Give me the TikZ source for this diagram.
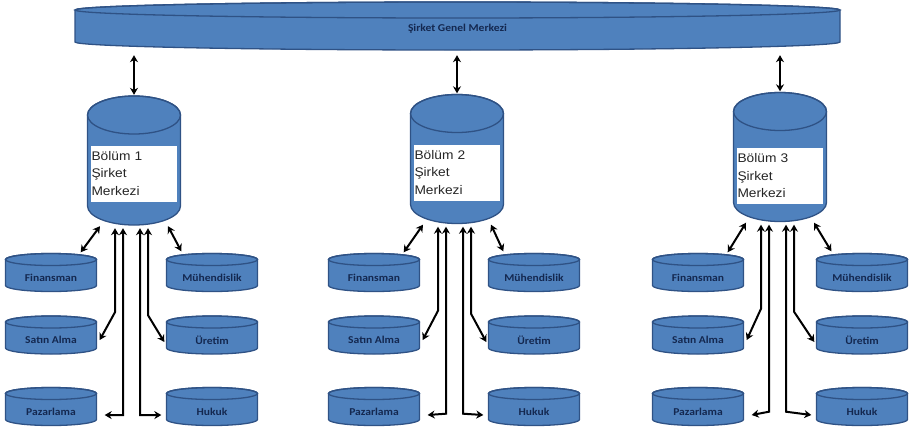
\documentclass[tikz,border=0pt]{standalone}
\usepackage{fontspec}
\setmainfont{Liberation Sans}
\newfontfamily\lblfont[FakeStretch=1.1]{Carlito}
\newfontfamily\boxfont[FakeStretch=1.1]{Liberation Sans}
\usetikzlibrary{calc,arrows.meta}
\definecolor{cylblue}{HTML}{4F81BD}
\definecolor{cyledge}{HTML}{2F5285}
\definecolor{navy}{HTML}{142850}
\newcommand\cyl[6]{%
  \filldraw[fill=cylblue,draw=cyledge,line width=1.3pt]
    ({#2-#4/2},{#3-#5/2+#6}) -- ({#2-#4/2},{#3+#5/2-#6})
    arc[start angle=180,end angle=0,x radius={#4/2},y radius={#6}]
    -- ({#2+#4/2},{#3-#5/2+#6})
    arc[start angle=0,end angle=-180,x radius={#4/2},y radius={#6}] -- cycle;
  \draw[cyledge,line width=1.3pt] (#2,{#3-#5/2+#6}) ellipse[x radius={#4/2},y radius={#6}];
  \node[inner sep=0pt,minimum width=#4,minimum height=#5] (#1) at (#2,#3) {};
}
\tikzset{
  lbl/.style={inner sep=0pt,text=navy,font=\lblfont\bfseries\fontsize{10.5}{12}\selectfont},
  box/.style={fill=white,inner xsep=0.5pt,inner ysep=0pt,minimum width=86,minimum height=56,
    text width=85,align=left,text=black!85,font=\boxfont\fontsize{12.5}{17.5}\selectfont},
  arr/.style={line width=2pt,{Stealth[length=7pt,width=8pt]}-{Stealth[length=7pt,width=8pt]}}
}
\begin{document}
\begin{tikzpicture}[x=1pt,y=-1pt]
\useasboundingbox (0,0) rectangle (909,432);
\cyl{bar}{457.5}{26}{765}{48}{8}
\node[lbl] (barl) at (457.5,29) {Şirket Genel Merkezi};
\foreach \g/\c/\cy/\by/\lx/\rx in {1/134/160.5/173.5/51/212, 2/457/159/172.5/374/534, 3/780/157/176/698/862} {
  \cyl{b\g}{\c}{\cy}{93}{129}{19}
  \node[box] (t\g) at (\c,\by) {Bölüm \g\\Şirket\\Merkezi};
  \cyl{f\g}{\lx}{272.5}{91}{38}{6}
  \cyl{s\g}{\lx}{335}{91}{38}{6}
  \cyl{p\g}{\lx}{406.5}{91}{38}{6}
  \cyl{m\g}{\rx}{272.5}{91}{38}{6}
  \cyl{u\g}{\rx}{335}{91}{38}{6}
  \cyl{h\g}{\rx}{406.5}{91}{38}{6}
  \node[lbl] (fl\g) at ($(f\g)+(0,5)$) {Finansman};
  \node[lbl] (sl\g) at ($(s\g)+(0,5)$) {Satın Alma};
  \node[lbl] (pl\g) at ($(p\g)+(0,5)$) {Pazarlama};
  \node[lbl] (ml\g) at ($(m\g)+(0,5)$) {Mühendislik};
  \node[lbl] (ul\g) at ($(u\g)+(0,5)$) {Üretim};
  \node[lbl] (hl\g) at ($(h\g)+(0,5)$) {Hukuk};
  \draw[arr] ($(b\g.north |- bar.south)+(0,5)$) -- ($(b\g.north)+(0,-1)$);
  \draw[arr] ($(b\g.south)+(-34,1)$) -- ($(f\g.north east)+(-16,-1)$);
  \draw[arr] ($(b\g.south)+(34,1)$) -- ($(m\g.north west)+(15,-2)$);
  \draw[arr] ($(b\g.south)+(-19,3)$) -- ($(b\g.south)+(-19,87)$) -- ($(s\g.east)+(3,5)$);
  \draw[arr] ($(b\g.south)+(-11,3)$) -- ($(b\g.south)+(-11,190)$) -- ($(p\g.east)+(8,8.5)$);
  \draw[arr] ($(b\g.south)+(6,3)$) -- ($(b\g.south)+(6,190)$) -- ($(h\g.west)+(-5,8.5)$);
  \draw[arr] ($(b\g.south)+(14,3)$) -- ($(b\g.south)+(14,90)$) -- ($(u\g.west)+(-2,7)$);
}
\end{tikzpicture}
\end{document}
